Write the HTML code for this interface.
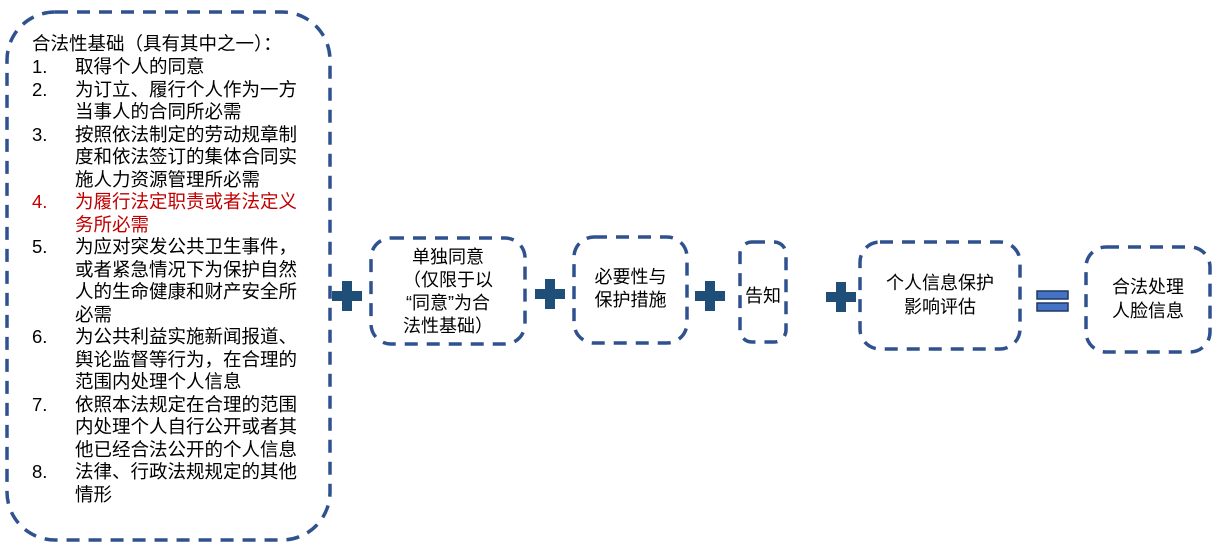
<!DOCTYPE html>
<html><head><meta charset="utf-8"><style>
body{margin:0;width:1217px;height:550px;background:#fff;position:relative;overflow:hidden;font-family:"Liberation Sans","Noto Sans CJK SC",sans-serif;color:#000}
svg{position:absolute;left:0;top:0}
.t{position:absolute;font-size:18.5px;line-height:22.5px;white-space:nowrap}
.c{text-align:center}
.n{position:absolute;left:32px}
.r{color:#C00000}
</style></head><body>
<svg width="1217" height="550">
<g fill="none" stroke="#2F528F" stroke-width="3.5" stroke-dasharray="13,9">
<rect x="7" y="12" width="323" height="528" rx="48"/>
<rect x="371" y="238" width="154" height="106" rx="20"/>
<rect x="574" y="237" width="113" height="106" rx="20"/>
<rect x="740" y="242" width="46" height="100" rx="12"/>
<rect x="860" y="242" width="160" height="107" rx="20"/>
<rect x="1086" y="247" width="124" height="105" rx="20"/>
</g>
<g fill="#1F4E79">
<rect x="332" y="291" width="30" height="10"/><rect x="342" y="281" width="10" height="30"/>
<rect x="535" y="289" width="30" height="10"/><rect x="545" y="279" width="10" height="30"/>
<rect x="695" y="291" width="30" height="10"/><rect x="705" y="281" width="10" height="30"/>
<rect x="826" y="292" width="30" height="10"/><rect x="836" y="282" width="10" height="30"/>
</g>
<g fill="#4472C4" stroke="#203864" stroke-width="1.5">
<rect x="1037" y="291" width="31" height="8"/><rect x="1037" y="303" width="31" height="8"/>
</g>
</svg>
<div class="t" style="left:32px;top:33px">合法性基础（具有其中之一）：</div>
<div class="t" style="left:32px;top:56px">1.<br>2.<br><br>3.<br><br><br><span class="r">4.</span><br><br>5.<br><br><br><br>6.<br><br><br>7.<br><br><br>8.</div>
<div class="t" style="left:75px;top:56px">取得个人的同意<br>为订立、履行个人作为一方<br>当事人的合同所必需<br>按照依法制定的劳动规章制<br>度和依法签订的集体合同实<br>施人力资源管理所必需<br><span class="r">为履行法定职责或者法定义<br>务所必需</span><br>为应对突发公共卫生事件，<br>或者紧急情况下为保护自然<br>人的生命健康和财产安全所<br>必需<br>为公共利益实施新闻报道、<br>舆论监督等行为，在合理的<br>范围内处理个人信息<br>依照本法规定在合理的范围<br>内处理个人自行公开或者其<br>他已经合法公开的个人信息<br>法律、行政法规规定的其他<br>情形</div>
<div class="t c" style="left:371px;width:154px;top:246px;font-size:18px;line-height:23px">单独同意<br>（仅限于以<br>“同意”为合<br>法性基础）</div>
<div class="t c" style="left:574px;width:113px;top:266px;font-size:18px;line-height:23px">必要性与<br>保护措施</div>
<div class="t c" style="left:740px;width:46px;top:285px;font-size:18px">告知</div>
<div class="t c" style="left:860px;width:160px;top:271px;font-size:18px;line-height:24px">个人信息保护<br>影响评估</div>
<div class="t c" style="left:1086px;width:124px;top:275px;font-size:18px;line-height:24px">合法处理<br>人脸信息</div>
</body></html>
